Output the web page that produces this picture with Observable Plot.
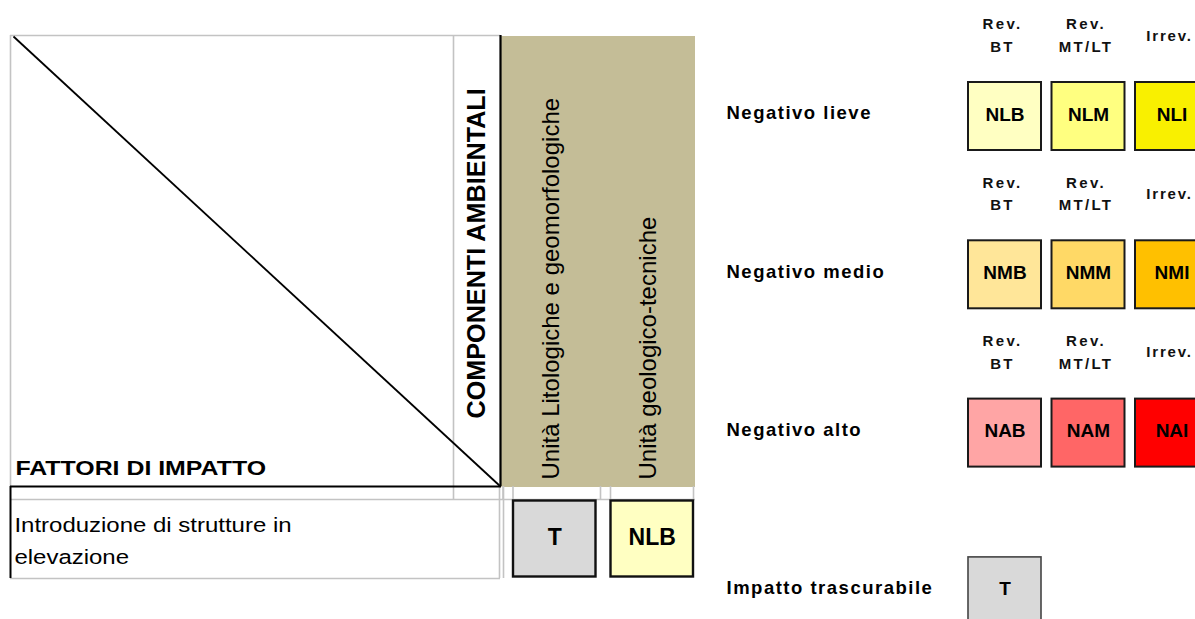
<!DOCTYPE html>
<html>
<head>
<meta charset="utf-8">
<script src="https://cdn.jsdelivr.net/npm/d3@7"></script>
<script src="https://cdn.jsdelivr.net/npm/@observablehq/plot@0.6"></script>
<style>
html, body { margin: 0; padding: 0; background: #fff; }
#chart { width: 1195px; height: 619px; overflow: hidden; }
</style>
</head>
<body>
<div id="chart"></div>
<script>
// ---------------- DATA ----------------
const factorsHeader = "FATTORI DI IMPATTO";
const componentsHeader = "COMPONENTI AMBIENTALI";
const impactFactors = ["Introduzione di strutture in\nelevazione"];
const components = ["Unità Litologiche e geomorfologiche", "Unità geologico-tecniche"];
const matrixValues = [["T", "NLB"]]; // one row per factor, one value per component

const levels = ["Negativo lieve", "Negativo medio", "Negativo alto"];
const durations = ["Rev.\nBT", "Rev.\nMT/LT", "Irrev."];
const levelCodes = [
  ["NLB", "NLM", "NLI"],
  ["NMB", "NMM", "NMI"],
  ["NAB", "NAM", "NAI"]
];
const negligibleLabel = "Impatto trascurabile";
const negligibleCode = "T";

// ---------------- STYLES / LAYOUT ----------------
const codeDomain = [...levelCodes.flat(), negligibleCode];
const codeColors = ["#ffffc2", "#ffff80", "#f9f000", "#ffe699", "#ffd966", "#ffc000", "#ffa5a5", "#ff6666", "#ff0000", "#d9d9d9"];
const TAN = "#c4bd97";
const GRID = "#c3c3c3";
const FONT = "'Liberation Sans', Arial, Helvetica, sans-serif";

const W = 1195, H = 619;
const T = {left: 10, top: 35, headBottom: 486, stripBottom: 499, rowH: 79, diagRight: 500, compLabelX: 453, colStart: 500, colWidth: 97.5};
T.right = T.colStart + components.length * T.colWidth;
T.bottom = T.stripBottom + impactFactors.length * T.rowH;
const colX = j => T.colStart + j * T.colWidth;
const rowY = i => T.stripBottom + i * T.rowH;

const L = {labelX: 726, boxX: 968, boxStep: 83.5, boxW: 73, boxY: 82, rowStep: 158.3, boxH: 68};
const bx = j => L.boxX + j * L.boxStep;
const by = i => L.boxY + i * L.rowStep;

// derived tables
const matrixCells = matrixValues.flatMap((row, i) => row.map((code, j) => ({i, j, code})));
const legendCells = levelCodes.flatMap((row, i) => row.map((code, j) => ({i, j, code})));
const negCell = [{i: levels.length, j: 0, code: negligibleCode}];
const legendHeaders = levels.flatMap((lv, i) => durations.map((d, j) => ({i, j, text: d})));
const legendLabels = [...levels, negligibleLabel].map((text, i) => ({i, text}));

const grayH = [
  {y: T.top, x1: T.left, x2: T.diagRight},
  {y: T.stripBottom, x1: T.left, x2: T.right},
  {y: T.bottom, x1: T.left, x2: T.diagRight}
];
const grayV = [
  {x: T.left, y1: T.top, y2: T.headBottom},
  {x: T.compLabelX, y1: T.top, y2: T.stripBottom},
  {x: T.diagRight - 1, y1: T.headBottom, y2: T.bottom},
  {x: T.diagRight + 3, y1: T.headBottom, y2: T.bottom},
  ...components.flatMap((c, j) => [
    {x: colX(j) + 2.5, y1: T.headBottom, y2: T.stripBottom},
    {x: colX(j) + 12.5, y1: T.headBottom, y2: T.stripBottom}
  ]),
  {x: T.right - 2, y1: T.headBottom, y2: T.stripBottom}
];

const svg = Plot.plot({
  width: W,
  height: H,
  margin: 0,
  x: {type: "linear", domain: [0, W], range: [0, W], axis: null},
  y: {type: "linear", domain: [0, H], range: [0, H], axis: null},
  color: {domain: codeDomain, range: codeColors},
  style: {fontFamily: FONT, background: "#fff", color: "#000", overflow: "hidden"},
  marks: [
    // tan header cells for components (slightly overlapping to avoid seams)
    Plot.rect(components, {x1: (d, j) => colX(j), x2: (d, j) => colX(j) + T.colWidth + (j < components.length - 1 ? 1 : 0), y1: T.top + 1, y2: T.headBottom + 1, fill: TAN}),
    // gray grid
    Plot.ruleY(grayH, {y: "y", x1: "x1", x2: "x2", stroke: GRID, strokeWidth: 1.6}),
    Plot.ruleX(grayV, {x: "x", y1: "y1", y2: "y2", stroke: GRID, strokeWidth: 1.6}),
    // black borders
    Plot.ruleY([T.headBottom], {x1: T.left, x2: T.diagRight + 1, stroke: "#000", strokeWidth: 2.2}),
    Plot.ruleX([T.diagRight], {y1: T.top, y2: T.headBottom, stroke: "#000", strokeWidth: 2.2}),
    Plot.ruleX([T.left], {y1: T.headBottom, y2: T.bottom, stroke: "#000", strokeWidth: 2}),
    // diagonal
    Plot.link([factorsHeader], {x1: T.left + 3, y1: T.top + 1, x2: T.diagRight, y2: T.headBottom, stroke: "#000", strokeWidth: 1.8}),
    // header labels
    Plot.text([factorsHeader], {x: T.left + 5, y: T.headBottom - 18, text: d => d, textAnchor: "start", lineAnchor: "middle", fontSize: 21, fontWeight: "bold", fill: "#000"}),
    Plot.text([componentsHeader], {x: (T.compLabelX + T.diagRight) / 2, y: 418, text: d => d, rotate: -90, textAnchor: "start", lineAnchor: "middle", fontSize: 25.2, fontWeight: "bold", fill: "#000"}),
    Plot.text(components, {x: (d, j) => colX(j) + T.colWidth / 2 + 2, y: T.headBottom - 7, text: d => d, rotate: -90, textAnchor: "start", lineAnchor: "middle", fontSize: 24, fill: "#000"}),
    // factor rows
    Plot.text(impactFactors, {x: T.left + 4, y: (d, i) => rowY(i) + T.rowH / 2 - 1.5, text: d => d, textAnchor: "start", lineAnchor: "middle", fontSize: 20.5, lineHeight: 1.56, fill: "#000"}),
    // matrix cells
    Plot.rect(matrixCells, {x1: d => colX(d.j) + 13, x2: d => colX(d.j) + T.colWidth - 2, y1: d => rowY(d.i) + 1.5, y2: d => rowY(d.i) + T.rowH - 1.5, fill: "code", stroke: "#111", strokeWidth: 2.4}),
    Plot.text(matrixCells, {x: d => colX(d.j) + 13 + (T.colWidth - 15) / 2, y: d => rowY(d.i) + T.rowH / 2 - 1, text: "code", fontSize: 23, fontWeight: "bold", fill: "#000"}),

    // ---------- legend ----------
    Plot.rect(legendCells, {x1: d => bx(d.j), x2: d => bx(d.j) + L.boxW, y1: d => by(d.i), y2: d => by(d.i) + L.boxH, fill: "code", stroke: "#1a1a1a", strokeWidth: 2}),
    Plot.rect(negCell, {x1: d => bx(d.j), x2: d => bx(d.j) + L.boxW, y1: d => by(d.i), y2: d => by(d.i) + L.boxH, fill: "code", stroke: "#444", strokeWidth: 1.6}),
    Plot.text([...legendCells, ...negCell], {x: d => bx(d.j) + L.boxW / 2, y: d => by(d.i) + 32, text: "code", fontSize: 19, fontWeight: "bold", fill: "#000"}),
    Plot.text(legendHeaders, {x: d => bx(d.j) + L.boxW / 2 - 2.5, y: d => by(d.i) - 49, text: "text", fontSize: 15, fontWeight: "bold", lineHeight: 1.5, lineAnchor: "middle", fill: "#111"}),
    Plot.text(legendLabels, {x: L.labelX, y: d => by(d.i) + 31, text: "text", textAnchor: "start", lineAnchor: "middle", fontSize: 18.5, fontWeight: "bold", fill: "#000"})
  ]
});

document.getElementById("chart").appendChild(svg);

// emulate the widened lettering of the original (selected by text content)
const allTexts = Array.from(svg.querySelectorAll("text"));
const sr = svg.getBoundingClientRect();
function stretch(t, k) {
  const r = t.getBoundingClientRect();
  const x0 = r.left - sr.left;
  t.setAttribute("transform", `translate(${x0} 0) scale(${k} 1) translate(${-x0} 0) ${t.getAttribute("transform") || ""}`);
}
const headerSet = new Set(durations.map(d => d.replace(/\n/g, "")));
const labelSet = new Set(legendLabels.map(d => d.text));
const factorSet = new Set(impactFactors.map(d => d.replace(/\n/g, "")));
allTexts.forEach(t => {
  const s = t.textContent;
  if (s === factorsHeader) stretch(t, 1.185);
  else if (factorSet.has(s)) stretch(t, 1.17);
  else if (headerSet.has(s)) t.style.letterSpacing = s === "Irrev." ? "1.8px" : "2.3px";
  else if (labelSet.has(s)) t.style.letterSpacing = "1.5px";
});
</script>
</body>
</html>
